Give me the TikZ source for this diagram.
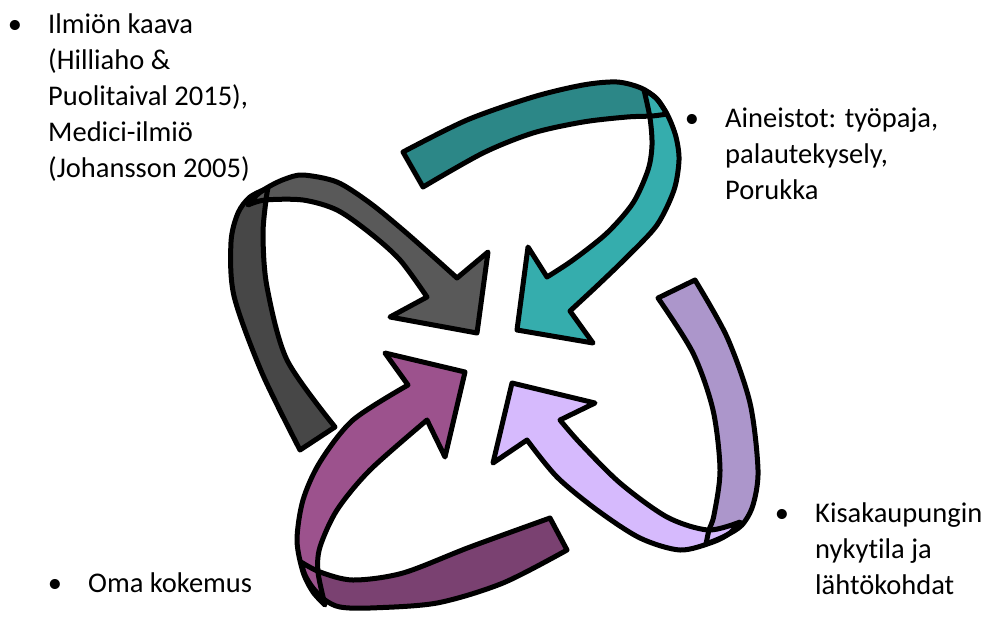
\documentclass[tikz,border=0pt]{standalone}
\usepackage{fontspec}
\setmainfont{Carlito}[RawFeature={-liga;-clig;-dlig}]
\usepackage{tikz}

\definecolor{greyfront}{HTML}{595959}
\definecolor{greyback}{HTML}{474747}
\definecolor{tealfront}{HTML}{35ADAD}
\definecolor{tealback}{HTML}{2C8787}
\definecolor{lilacfront}{HTML}{D6BAFD}
\definecolor{lilacback}{HTML}{AC96CB}
\definecolor{plumfront}{HTML}{9C528D}
\definecolor{plumback}{HTML}{7A4171}

\begin{document}
\begin{tikzpicture}[x=1pt,y=-1pt,
    ribbon/.style={draw=black,line width=5pt,line join=round},
    textblock/.style={anchor=base west,inner sep=0pt,align=left,font=\fontsize{28.5}{36}\selectfont},
    bulletdot/.style={anchor=base,inner sep=0pt,font=\fontsize{28.5}{36}\selectfont}]
    \useasboundingbox (0,0) rectangle (992,619);

    % grey arrow
    \fill[greyback, save path=\greyB] (300,450) -- (335,427)
        -- plot[smooth] coordinates {(335,427) (287,360) (267,287) (263,235) (266,200) (268,188)}
        -- plot[smooth] coordinates {(268,188) (250,197) (238,213) (231,242) (234,296) (262,373) (300,450)} -- cycle;
    \fill[greyfront, save path=\greyF] (457,278) -- (488,252) -- (477,333) -- (390,317) -- (427,297)
        -- plot[smooth] coordinates {(427,297) (400,260) (370,233) (337,210) (303,200) (265,200) (248,205)}
        -- plot[smooth] coordinates {(248,205) (258,194) (270,186) (285,179) (303,175) (337,182) (370,203) (403,230) (437,260) (457,278)} -- cycle;
    \draw[ribbon, use path=\greyB];
    \draw[ribbon, use path=\greyF];

    % teal arrow
    \fill[tealback, save path=\tealB] (403,152) -- (423,187)
        -- plot[smooth] coordinates {(423,187) (483,153) (533,133) (583,122) (627,117) (652,116) (667,114)}
        -- plot[smooth] coordinates {(667,114) (657,99) (641,88) (617,82) (583,85) (533,97) (467,120) (403,152)} -- cycle;
    \fill[tealfront, save path=\tealF] (570,311) -- (593,343) -- (517,330) -- (528,247) -- (547,277)
        -- plot[smooth] coordinates {(547,277) (573,260) (607,233) (633,203) (648,170) (652,145) (650,118) (644,90)}
        -- plot[smooth] coordinates {(644,90) (656,98) (668,116) (676,137) (679,160) (674,190) (657,225) (628,256) (598,285) (570,311)} -- cycle;
    \draw[ribbon, use path=\tealB];
    \draw[ribbon, use path=\tealF];

    % lilac arrow
    \fill[lilacback, save path=\lilacB] (695,280) -- (658,298)
        -- plot[smooth] coordinates {(658,298) (693,353) (713,410) (720,470) (714,515) (709,530) (706,544)}
        -- plot[smooth] coordinates {(706,544) (725,536) (742,525) (753,505) (758,470) (750,403) (727,337) (695,280)} -- cycle;
    \fill[lilacfront, save path=\lilacF] (527,440) -- (493,463) -- (512,383) -- (595,403) -- (560,420)
        -- plot[smooth] coordinates {(560,420) (580,443) (620,483) (667,517) (708,530) (740,522)}
        -- plot[smooth] coordinates {(740,522) (730,533) (713,542) (680,550) (640,538) (597,510) (557,477) (527,440)} -- cycle;
    \draw[ribbon, use path=\lilacB];
    \draw[ribbon, use path=\lilacF];

    % plum arrow
    \fill[plumback, save path=\plumB] (567,550) -- (550,518)
        -- plot[smooth] coordinates {(550,518) (470,547) (403,573) (353,580) (320,572) (301,562)}
        -- plot[smooth] coordinates {(301,562) (305,575) (313,588) (325,600) (340,607) (370,608) (437,603) (503,583) (567,550)} -- cycle;
    \fill[plumfront, save path=\plumF] (408,385) -- (385,353) -- (465,372) -- (445,457) -- (427,420)
        -- plot[smooth] coordinates {(427,420) (370,470) (337,510) (320,547) (318,572) (325,605)}
        -- plot[smooth] coordinates {(325,605) (313,592) (303,572) (297,540) (303,500) (320,462) (353,420) (408,385)} -- cycle;
    \draw[ribbon, use path=\plumB];
    \draw[ribbon, use path=\plumF];

    % texts (a block sits on its last baseline)
    \node[bulletdot] (kaavadot) at (15,33) {•};
    \node[textblock] (kaava) at (48,177) {Ilmiön kaava\\(Hilliaho \&\\Puolitaival 2015),\\Medici-ilmiö\\(Johansson 2005)};
    \node[bulletdot] (aineistodot) at (692,127) {•};
    \node[textblock] (aineisto) at (725,199) {Aineistot: työpaja,\\palautekysely,\\Porukka};
    \node[bulletdot] (kisadot) at (782,522) {•};
    \node[textblock] (kisa) at (815,594) {Kisakaupungin\\nykytila ja\\lähtökohdat};
    \node[bulletdot] (omadot) at (55,592) {•};
    \node[textblock] (oma) at (88,592) {Oma kokemus};
\end{tikzpicture}
\end{document}
